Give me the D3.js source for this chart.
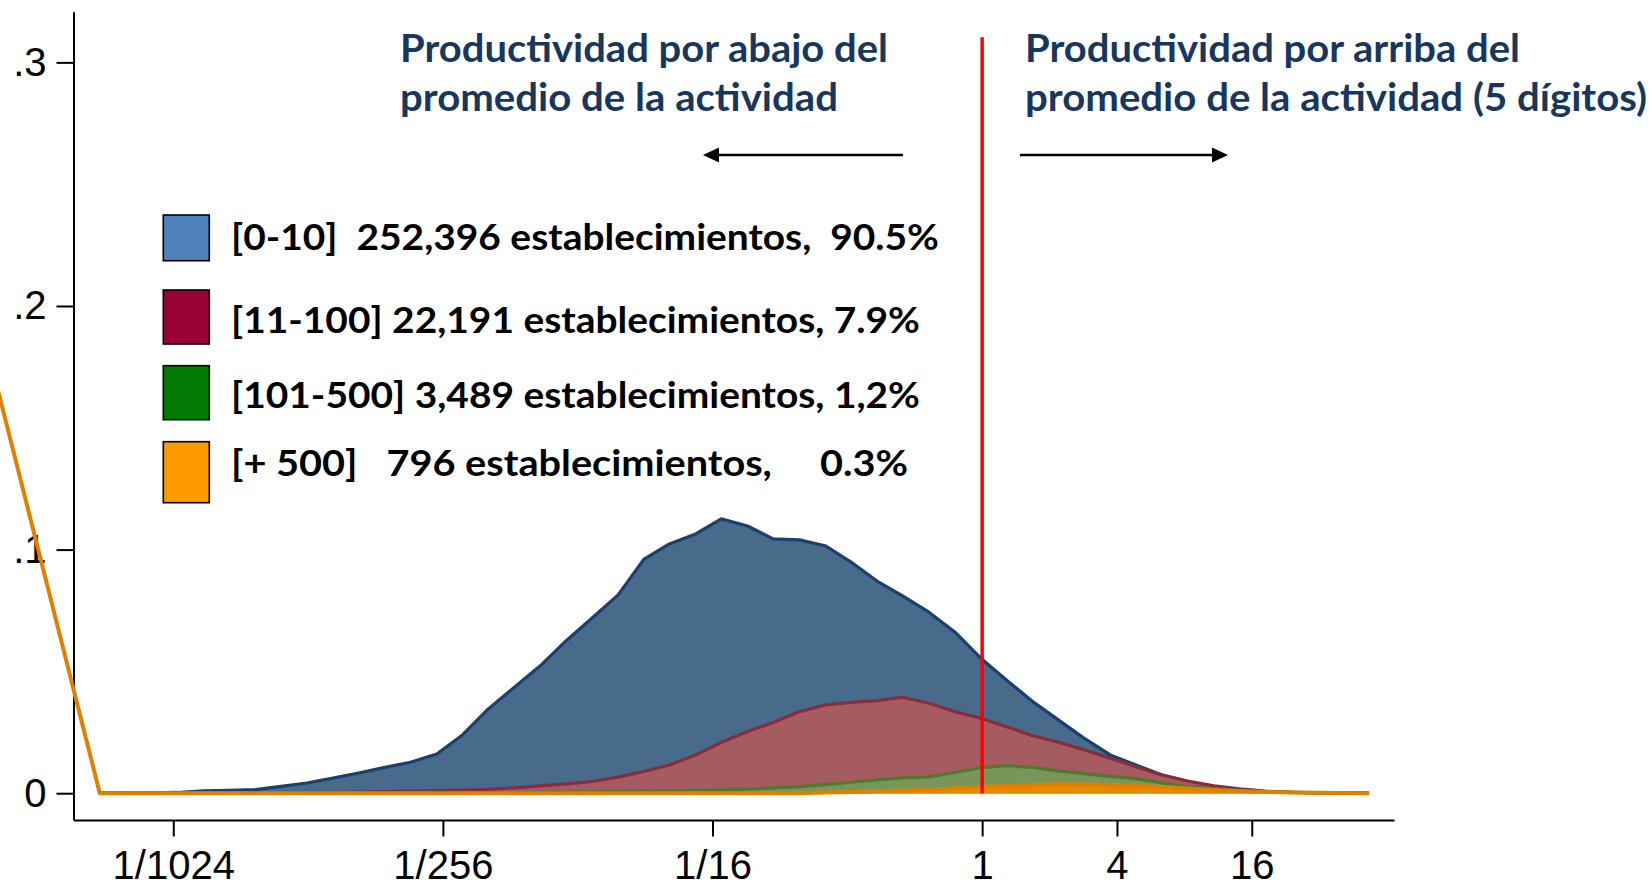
<!DOCTYPE html>
<html>
<head>
<meta charset="utf-8">
<script src="https://cdnjs.cloudflare.com/ajax/libs/d3/7.8.5/d3.min.js"></script>
<style>
  body { margin: 0; background: #fff; }
  svg { display: block; }
</style>
</head>
<body>
<div id="chart"></div>
<script>
// x: log2 of productivity relative to the activity mean (5 digits)
var xGrid = [-13.09, -12.71, -12.32, -11.94, -11.55, -11.17, -10.78, -10.40, -10.02, -9.63,
             -9.25, -8.86, -8.48, -8.09, -7.71, -7.33, -6.94, -6.56, -6.17, -5.79,
             -5.40, -5.02, -4.64, -4.25, -3.87, -3.48, -3.10, -2.71, -2.33, -1.95,
             -1.56, -1.18, -0.79, -0.41, -0.02, 0.36, 0.75, 1.13, 1.51, 1.90,
             2.28, 2.67, 3.05, 3.44, 3.82, 4.20, 4.59, 4.97, 5.36, 5.74];

// density by size of establishment
var blueVals = [0, 0, 0.0001, 0.0003, 0.0010, 0.0012, 0.0015, 0.0028, 0.0042, 0.0062,
                0.0083, 0.0106, 0.0127, 0.0161, 0.0239, 0.0345, 0.0435, 0.0522, 0.0626, 0.0718,
                0.0814, 0.0960, 0.1023, 0.1064, 0.1126, 0.1097, 0.1044, 0.1040, 0.1016, 0.0950,
                0.0871, 0.0810, 0.0743, 0.0663, 0.0554, 0.0465, 0.0376, 0.0301, 0.0226, 0.0157,
                0.0116, 0.0075, 0.0048, 0.0027, 0.0014, 0.0007, 0.0003, 0.0001, 0, 0];
var redVals = [0, 0, 0, 0, 0, 0, 0.0001, 0.0001, 0.0002, 0.0003,
               0.0005, 0.0007, 0.0009, 0.0011, 0.0013, 0.0016, 0.0022, 0.0030, 0.0038, 0.0048,
               0.0066, 0.0089, 0.0116, 0.0157, 0.0208, 0.0253, 0.0290, 0.0335, 0.0362, 0.0373,
               0.0380, 0.0394, 0.0369, 0.0335, 0.0308, 0.0273, 0.0236, 0.0209, 0.0178, 0.0144,
               0.0109, 0.0075, 0.0050, 0.0030, 0.0018, 0.0009, 0.0004, 0.0002, 0, 0];
var greenVals = [0, 0, 0, 0, 0, 0, 0, 0, 0, 0,
                 0, 0, 0, 0, 0.0001, 0.0002, 0.0003, 0.0004, 0.0005, 0.0006,
                 0.0007, 0.0008, 0.0010, 0.0012, 0.0014, 0.0017, 0.0022, 0.0027, 0.0035, 0.0045,
                 0.0055, 0.0063, 0.0067, 0.0085, 0.0105, 0.0113, 0.0106, 0.0092, 0.0080, 0.0069,
                 0.0060, 0.0042, 0.0027, 0.0019, 0.0012, 0.0007, 0.0004, 0.0002, 0.0001, 0];
var orangeVals = [0, 0, 0, 0, 0, 0, 0, 0, 0, 0,
                  0, 0, 0, 0, 0, 0, 0, 0, 0, 0,
                  0, 0, 0, 0, 0, 0, 0, 0, 0.0003, 0.0005,
                  0.0008, 0.0011, 0.0014, 0.0020, 0.0026, 0.0030, 0.0034, 0.0037, 0.0036, 0.0034,
                  0.0031, 0.0025, 0.0019, 0.0013, 0.0008, 0.0005, 0.0003, 0.0002, 0.0001, 0];
// the +500 line starts from a point far to the left (off the plot)
var orangeLead = [-15.2, 0.231];

var xTickValues = [-12, -8, -4, 0, 2, 4];
var xTickLabels = ["1/1024", "1/256", "1/16", "1", "4", "16"];
var yTickValues = [0, 0.1, 0.2, 0.3];
var yTickLabels = ["0", ".1", ".2", ".3"];

var legendLabels = ["[0-10]  252,396 establecimientos,  90.5%",
                    "[11-100] 22,191 establecimientos, 7.9%",
                    "[101-500] 3,489 establecimientos, 1,2%",
                    "[+ 500]   796 establecimientos,     0.3%"];
var legendColors = ["#4f81bd", "#990033", "#007a00", "#ff9900"];

var seriesFill = ["#486b8c", "#a55c60", "#78965a", "#e68a00"];
var seriesStroke = ["#1b406b", "#8b2b3b", "#4e7a2c", "#e08000"];

var width = 1652, height = 888;

var svg = d3.select("#chart").append("svg")
    .attr("width", width)
    .attr("height", height);

// scales
var x = d3.scaleLinear().domain([-13.48, 6.11]).range([73.5, 1394]);
var y = d3.scaleLinear().domain([-0.011, 0.3208]).range([820, 11.7]);

// axes
var xAxis = svg.append("g")
    .attr("transform", "translate(0,820)")
    .call(d3.axisBottom(x)
        .tickValues(xTickValues)
        .tickFormat(function(d, i) { return xTickLabels[i]; })
        .tickSize(16.5).tickSizeOuter(0).tickPadding(14));

var yAxis = svg.append("g")
    .attr("transform", "translate(73.5,0)")
    .call(d3.axisLeft(y)
        .tickValues(yTickValues)
        .tickFormat(function(d, i) { return yTickLabels[i]; })
        .tickSize(17).tickSizeOuter(0).tickPadding(10));

svg.selectAll(".tick text")
    .attr("font-family", "'Liberation Sans', Arial, sans-serif")
    .attr("font-size", 40)
    .attr("fill", "#000");
svg.selectAll(".domain, .tick line")
    .attr("stroke", "#000")
    .attr("stroke-width", 2);

// areas and outlines
var area = d3.area()
    .x(function(d) { return x(d[0]); })
    .y0(y(0))
    .y1(function(d) { return y(d[1]); });
var line = d3.line()
    .x(function(d) { return x(d[0]); })
    .y(function(d) { return y(d[1]); });

var allVals = [blueVals, redVals, greenVals, orangeVals];
allVals.forEach(function(vals, k) {
    var pts = xGrid.map(function(xv, i) { return [xv, vals[i]]; });
    svg.append("path")
        .attr("d", area(pts))
        .attr("fill", seriesFill[k]);
    var linePts = k === 3 ? [orangeLead].concat(pts) : pts;
    svg.append("path")
        .attr("d", line(linePts))
        .attr("fill", "none")
        .attr("stroke", seriesStroke[k])
        .attr("stroke-width", k === 3 ? 4 : 3.2)
        .attr("stroke-linejoin", "round");
});

// mean productivity line
svg.append("line")
    .attr("x1", x(0)).attr("x2", x(0))
    .attr("y1", y(0)).attr("y2", y(0.3103))
    .attr("stroke", "#ff0000")
    .attr("stroke-width", 3.5);

// annotations
var titleColor = "#17375e";
var titles = [
    {x: 400, y: 61.7, t: "Productividad por abajo del", w: 488},
    {x: 400, y: 110.7, t: "promedio de la actividad", w: 438},
    {x: 1025, y: 61.7, t: "Productividad por arriba del", w: 495},
    {x: 1025, y: 110.7, t: "promedio de la actividad (5 dígitos)", w: 622}
];
svg.selectAll(".title")
    .data(titles)
    .enter().append("text")
    .attr("class", "title")
    .attr("x", function(d) { return d.x; })
    .attr("y", function(d) { return d.y; })
    .attr("font-family", "Lato, 'Open Sans', sans-serif")
    .attr("font-weight", "bold")
    .attr("font-size", 39)
    .attr("fill", titleColor)
    .attr("textLength", function(d) { return d.w; })
    .attr("lengthAdjust", "spacingAndGlyphs")
    .text(function(d) { return d.t; });

// arrows
function arrow(x1, x2, yy) {
    var dir = x2 < x1 ? 1 : -1;
    svg.append("line")
        .attr("x1", x1).attr("x2", x2 + dir * 14)
        .attr("y1", yy).attr("y2", yy)
        .attr("stroke", "#000").attr("stroke-width", 2.5);
    svg.append("path")
        .attr("d", "M" + x2 + "," + yy + "L" + (x2 + dir * 16) + "," + (yy - 7.5) +
                   "L" + (x2 + dir * 16) + "," + (yy + 7.5) + "Z")
        .attr("fill", "#000");
}
arrow(903, 703, 155);
arrow(1020, 1228, 155);

// legend
var legTop = [215, 290, 365.7, 441.7];
var legH = [45.7, 54, 54, 61];
var legBase = [250, 332.7, 408.3, 476];
var legW = [708, 689, 689, 677];

svg.selectAll(".legbox")
    .data(legendColors)
    .enter().append("rect")
    .attr("class", "legbox")
    .attr("x", 163.3)
    .attr("y", function(d, i) { return legTop[i]; })
    .attr("width", 46)
    .attr("height", function(d, i) { return legH[i]; })
    .attr("fill", function(d) { return d; })
    .attr("stroke", "#000")
    .attr("stroke-width", 1.6);

svg.selectAll(".legtext")
    .data(legendLabels)
    .enter().append("text")
    .attr("class", "legtext")
    .attr("x", 231)
    .attr("y", function(d, i) { return legBase[i]; })
    .attr("font-family", "Lato, 'Open Sans', sans-serif")
    .attr("font-weight", "bold")
    .attr("font-size", 37)
    .attr("fill", "#000")
    .style("white-space", "pre")
    .attr("textLength", function(d, i) { return legW[i]; })
    .attr("lengthAdjust", "spacingAndGlyphs")
    .text(function(d) { return d; });
</script>
</body>
</html>
